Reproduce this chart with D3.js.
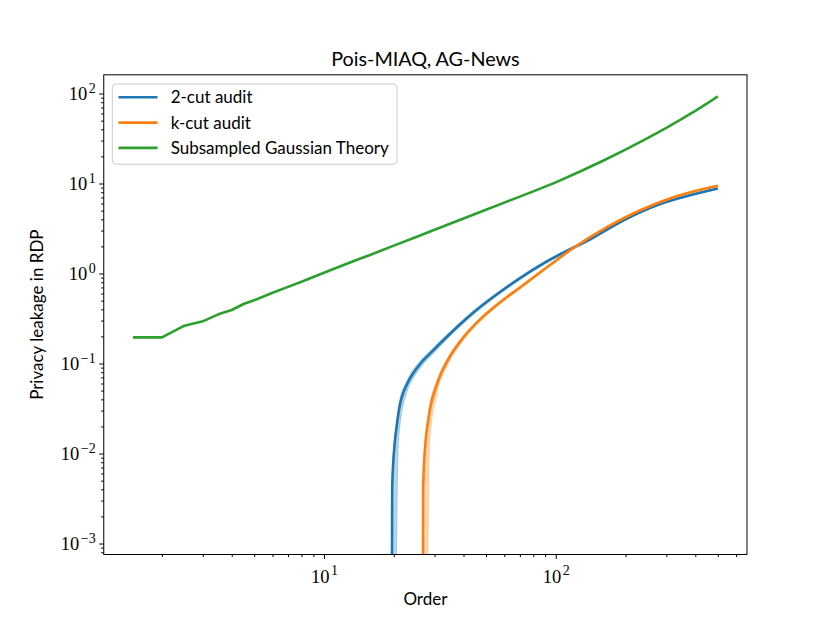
<!DOCTYPE html>
<html lang="en">
<head>
  <meta charset="UTF-8">
  <title>Pois-MIAQ, AG-News</title>
  <style>
    body { margin: 0; background: #fff; }
    svg { display: block; }
    .sans { font-family: Lato, "DejaVu Sans", sans-serif; fill: #000; }
    .serif { font-family: "Liberation Serif", "DejaVu Serif", serif; fill: #000; }
    .frame { fill: none; stroke: #000; stroke-width: 1; }
    .tick line { stroke: #000; stroke-width: 1; }
  </style>
</head>
<body>
<div id="chart"></div>
<script src="https://cdn.jsdelivr.net/npm/d3@7/dist/d3.min.js"></script>
<script>
// series
const seriesNames = ["2-cut audit", "k-cut audit", "Subsampled Gaussian Theory"];
const seriesColors = ["#1f77b4", "#ff7f0e", "#2ca02c"];

const theoryOrders = [1.5, 2, 2.5, 3, 3.5, 4, 4.5, 5, 6, 7, 8, 9, 10, 12, 14, 16, 20, 25, 30, 40, 50, 60, 70, 80, 100, 128, 160, 200, 250, 300, 350, 400, 450, 500];
const theoryValues = [0.195, 0.195, 0.263, 0.294, 0.352, 0.393, 0.458, 0.505, 0.61, 0.71, 0.81, 0.915, 1.02, 1.225, 1.43, 1.63, 2.04, 2.55, 3.06, 4.08, 5.1, 6.13, 7.15, 8.17, 10.3, 13.7, 17.9, 23.8, 32.1, 41.6, 52.2, 64.0, 77.5, 93];

const twoCutOrders = [19.5, 19.7, 20.2, 20.6, 21.05, 22.9, 24.24, 26.1, 29.7, 33.5, 44.4, 61.9, 86.1, 105.1, 141.6, 197.2, 275, 383, 500];
const twoCutMean = [0, 0.0043, 0.013, 0.020, 0.030, 0.060, 0.0774, 0.100, 0.141, 0.192, 0.373, 0.713, 1.243, 1.647, 2.417, 3.93, 5.77, 7.45, 8.80];
const twoCutLow = [0, 0, 0, 0.0012, 0.016, 0.050, 0.068, 0.090, 0.130, 0.180, 0.355, 0.685, 1.20, 1.60, 2.36, 3.85, 5.67, 7.34, 8.68];
const twoCutHigh = [0, 0.0058, 0.016, 0.024, 0.035, 0.066, 0.085, 0.108, 0.150, 0.203, 0.39, 0.74, 1.285, 1.70, 2.48, 4.02, 5.88, 7.57, 8.93];

const kCutOrders = [26.56, 26.8, 27.4, 28.1, 28.6, 30.8, 34.1, 38.9, 45.1, 52.4, 73.0, 95.1, 120, 167.2, 232.9, 324.3, 500];
const kCutMean = [0, 0.0043, 0.013, 0.022, 0.030, 0.060, 0.107, 0.178, 0.275, 0.393, 0.755, 1.259, 1.945, 3.29, 5.08, 7.08, 9.45];
const kCutLow = [0, 0, 0, 0.001, 0.014, 0.048, 0.096, 0.166, 0.262, 0.378, 0.73, 1.225, 1.90, 3.23, 5.0, 6.98, 9.33];
const kCutHigh = [0, 0.0058, 0.016, 0.026, 0.035, 0.066, 0.115, 0.188, 0.287, 0.408, 0.78, 1.29, 1.99, 3.35, 5.16, 7.18, 9.57];

const xMajor = [10, 100];
const yMajor = [1e-3, 1e-2, 1e-1, 1, 10, 100];

(function () {
  const width = 830;
  const height = 623;
  const m = { left: 103.75, right: 747, top: 74.8, bottom: 554.5 };

  const x = d3.scaleLog()
    .domain([Math.pow(10, 0.04995), Math.pow(10, 2.82511)])
    .range([m.left, m.right]);
  const y = d3.scaleLog()
    .domain([Math.pow(10, -3.122), Math.pow(10, 2.2078)])
    .range([m.bottom, m.top]);

  // matplotlib clips non-positive values on log axes
  const clip = v => Math.max(v, 1e-6);

  const svg = d3.select('#chart')
    .append('svg')
    .attr('width', width)
    .attr('height', height);

  svg.append('defs').append('clipPath')
    .attr('id', 'plot-clip')
    .append('rect')
    .attr('x', m.left).attr('y', m.top)
    .attr('width', m.right - m.left).attr('height', m.bottom - m.top);

  const plot = svg.append('g').attr('clip-path', 'url(#plot-clip)');

  const smooth = d3.line()
    .x(d => x(d[0]))
    .y(d => y(clip(d[1])))
    .curve(d3.curveMonotoneX);

  const straight = d3.line()
    .x(d => x(d[0]))
    .y(d => y(clip(d[1])));

  const area = d3.area()
    .x(d => x(d[0]))
    .y0(d => y(clip(d[1])))
    .y1(d => y(clip(d[2])))
    .curve(d3.curveMonotoneX);

  const audits = [
    { orders: twoCutOrders, mean: twoCutMean, lo: twoCutLow, hi: twoCutHigh, color: seriesColors[0] },
    { orders: kCutOrders, mean: kCutMean, lo: kCutLow, hi: kCutHigh, color: seriesColors[1] }
  ];

  audits.forEach(s => {
    plot.append('path')
      .attr('d', smooth(s.orders.map((o, i) => [o, s.mean[i]])))
      .attr('fill', 'none')
      .attr('stroke', s.color)
      .attr('stroke-width', 2.6);
    plot.append('path')
      .attr('d', area(s.orders.map((o, i) => [o, s.lo[i], s.hi[i]])))
      .attr('fill', s.color)
      .attr('fill-opacity', 0.3)
      .attr('stroke', s.color)
      .attr('stroke-opacity', 0.3)
      .attr('stroke-width', 1);
  });

  plot.append('path')
    .attr('d', straight(theoryOrders.map((o, i) => [o, theoryValues[i]])))
    .attr('fill', 'none')
    .attr('stroke', seriesColors[2])
    .attr('stroke-width', 2.6)
    .attr('stroke-linejoin', 'round');

  // minor ticks
  const minors = (lo, hi) => {
    const out = [];
    for (let e = -5; e <= 3; e++) {
      for (let k = 2; k <= 9; k++) {
        const v = k * Math.pow(10, e);
        if (v >= lo && v <= hi) out.push(v);
      }
    }
    return out;
  };
  const xd = x.domain(), yd = y.domain();

  svg.append('g')
    .attr('transform', `translate(0,${m.bottom})`)
    .call(d3.axisBottom(x).tickValues(minors(xd[0], xd[1])).tickSize(2.6).tickFormat(''))
    .call(g => g.select('.domain').remove());
  const xAxis = svg.append('g')
    .attr('transform', `translate(0,${m.bottom})`)
    .call(d3.axisBottom(x).tickValues(xMajor).tickSize(4.5).tickFormat(''))
    .call(g => g.select('.domain').remove());

  svg.append('g')
    .attr('transform', `translate(${m.left},0)`)
    .call(d3.axisLeft(y).tickValues(minors(yd[0], yd[1])).tickSize(2.6).tickFormat(''))
    .call(g => g.select('.domain').remove());
  const yAxis = svg.append('g')
    .attr('transform', `translate(${m.left},0)`)
    .call(d3.axisLeft(y).tickValues(yMajor).tickSize(4.5).tickFormat(''))
    .call(g => g.select('.domain').remove());

  const expLabel = (sel, v) => {
    const e = Math.round(Math.log10(v));
    sel.append('tspan').text('10');
    sel.append('tspan')
      .attr('dx', 1.5)
      .attr('dy', -7.5)
      .attr('font-size', 14)
      .text(e < 0 ? '\u2212' + (-e) : String(e));
  };

  xAxis.selectAll('.tick').each(function (d) {
    const t = d3.select(this).append('text')
      .attr('class', 'serif')
      .attr('y', 28)
      .attr('text-anchor', 'middle')
      .attr('font-size', 18.5)
      .attr('fill', '#000');
    expLabel(t, d);
  });

  yAxis.selectAll('.tick').each(function (d) {
    const t = d3.select(this).append('text')
      .attr('class', 'serif')
      .attr('x', -8)
      .attr('y', 6)
      .attr('text-anchor', 'end')
      .attr('font-size', 18.5)
      .attr('fill', '#000');
    expLabel(t, d);
  });

  svg.append('rect')
    .attr('class', 'frame')
    .attr('x', m.left).attr('y', m.top)
    .attr('width', m.right - m.left).attr('height', m.bottom - m.top);

  // titles
  svg.append('text')
    .attr('class', 'sans')
    .attr('x', (m.left + m.right) / 2)
    .attr('y', 66)
    .attr('text-anchor', 'middle')
    .attr('font-size', 19.8)
    .text('Pois-MIAQ, AG-News');

  svg.append('text')
    .attr('class', 'sans')
    .attr('x', (m.left + m.right) / 2)
    .attr('y', 605)
    .attr('text-anchor', 'middle')
    .attr('font-size', 17)
    .text('Order');

  svg.append('text')
    .attr('class', 'sans')
    .attr('transform', `translate(43,${(m.top + m.bottom) / 2}) rotate(-90)`)
    .attr('text-anchor', 'middle')
    .attr('font-size', 17)
    .text('Privacy leakage in RDP');

  // legend
  const legend = svg.append('g');
  legend.append('rect')
    .attr('x', 112.3).attr('y', 84)
    .attr('width', 284.7).attr('height', 80.3)
    .attr('rx', 4)
    .attr('fill', '#fff').attr('fill-opacity', 0.8)
    .attr('stroke', '#cccccc').attr('stroke-width', 1);

  seriesNames.forEach((name, i) => {
    const ly = 97.3 + i * 25.3;
    legend.append('line')
      .attr('x1', 118.5).attr('x2', 157.5)
      .attr('y1', ly).attr('y2', ly)
      .attr('stroke', seriesColors[i])
      .attr('stroke-width', 2.6);
    legend.append('text')
      .attr('class', 'sans')
      .attr('x', 170.7)
      .attr('y', ly + 6)
      .attr('font-size', 17)
      .text(name);
  });
})();
</script>
</body>
</html>
